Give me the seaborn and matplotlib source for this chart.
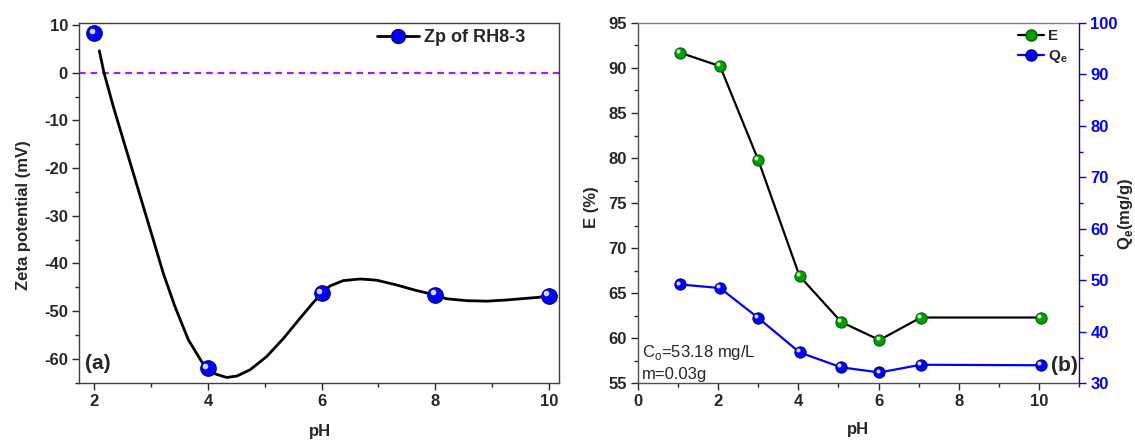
from matplotlib import pyplot as plt
from matplotlib.lines import Line2D
from matplotlib.ticker import MultipleLocator
import matplotlib.transforms as mtransforms
import pandas as pd
import seaborn as sns

# panel (a): zeta potential
zp_ph = [2, 4, 6, 8, 10]
zp_mv = [8.26, -61.97, -46.25, -46.6, -46.75]
# smooth fitted curve
curve_ph = [2.088, 2.17, 2.335, 2.51, 2.687, 2.863, 3.04, 3.215, 3.42, 3.655, 3.89,
            4.0, 4.14, 4.33, 4.51, 4.74, 5.035, 5.33, 5.62, 5.86, 6.0, 6.15, 6.38,
            6.68, 6.97, 7.32, 7.68, 8.0, 8.2, 8.56, 8.91, 9.26, 9.61, 9.82, 10.0]
curve_mv = [4.61, 0.0, -7.13, -14.1, -21.1, -28.1, -35.1, -42.1, -49.05, -56.0, -60.6,
            -62.0, -63.2, -63.9, -63.6, -62.3, -59.5, -55.7, -51.5, -48.1, -46.3, -44.7, -43.6,
            -43.25, -43.5, -44.5, -45.7, -46.6, -47.4, -47.8, -47.9, -47.65, -47.3, -47.1, -46.75]

# panel (b): removal efficiency and adsorption capacity
b_ph = [1.05, 2.05, 3.0, 4.03, 5.07, 6.02, 7.05, 10.05]
e_pct = [91.7, 90.2, 79.8, 66.9, 61.8, 59.8, 62.3, 62.3]
qe = [49.2, 48.5, 42.7, 36.0, 33.1, 32.1, 33.6, 33.5]

BLUE = "#0000ff"
GREEN = "#00a000"
PURPLE = "#a020f0"

sns.set_style("ticks")
plt.rcParams["font.family"] = ["Liberation Sans", "DejaVu Sans"]
plt.rcParams["font.weight"] = "bold"
plt.rcParams["axes.labelweight"] = "bold"
plt.rcParams["axes.unicode_minus"] = False
plt.rcParams["xtick.direction"] = "out"
plt.rcParams["ytick.direction"] = "out"

fig = plt.figure(figsize=(11.35, 4.4), dpi=100)
ax1 = fig.add_axes([0.0696, 0.1302, 0.4229, 0.8168])
ax2 = fig.add_axes([0.5619, 0.1289, 0.3891, 0.819])
ax3 = ax2.twinx()


def balls(ax, x, y, color, edge, size):
    # shaded "sphere" markers: filled circle plus a small white highlight
    df = pd.DataFrame({"x": x, "y": y})
    sns.scatterplot(data=df, x="x", y="y", ax=ax, s=size, color=color,
                    edgecolor=edge, linewidth=0.8, zorder=4, legend=False)
    off = size ** 0.5 * 0.17
    hl = mtransforms.offset_copy(ax.transData, fig=fig, x=-off, y=off, units="points")
    ax.scatter(x, y, s=size * 0.13, color="white", alpha=0.85, linewidths=0,
               transform=hl, zorder=5)


def style_axis(ax):
    ax.tick_params(labelsize=12, width=1.0, length=5, pad=3)
    ax.tick_params(which="minor", width=1.0, length=3)


# ---- panel (a)
ax1.axhline(0, color=PURPLE, ls=(0, (3, 2.2)), lw=1.6, zorder=2)
cdf = pd.DataFrame({"pH": curve_ph, "Zp": curve_mv})
sns.lineplot(data=cdf, x="pH", y="Zp", ax=ax1, sort=False, color="black",
             lw=2.0, zorder=3)
balls(ax1, zp_ph, zp_mv, BLUE, "#00008b", 125)
ax1.set_xlim(1.73, 10.18)
ax1.set_ylim(-65, 10.36)
ax1.xaxis.set_major_locator(MultipleLocator(2))
ax1.xaxis.set_minor_locator(MultipleLocator(1))
ax1.yaxis.set_major_locator(MultipleLocator(10))
ax1.yaxis.set_minor_locator(MultipleLocator(5))
ax1.set_xlabel("pH", fontsize=12)
ax1.set_ylabel("Zeta potential (mV)", fontsize=12)
ax1.xaxis.set_label_coords(0.502, -0.114)
ax1.yaxis.set_label_coords(-0.1, 0.465)
for sp in ax1.spines.values():
    sp.set_visible(True)
    sp.set_linewidth(1.0)
    sp.set_color("#404040")
style_axis(ax1)
ax1.text(0.0125, 0.027, "(a)", transform=ax1.transAxes, fontsize=15,
         fontweight="bold", ha="left", va="bottom")
h_zp = Line2D([], [], color="black", lw=2, marker="o", ms=10,
              markerfacecolor=BLUE, markeredgecolor="#00008b")
ax1.legend([h_zp], ["Zp of RH8-3"], loc="center right",
           bbox_to_anchor=(0.949, 0.961), frameon=False, borderpad=0,
           handlelength=2.3, handletextpad=0.3,
           prop={"weight": "bold", "size": 13})

# ---- panel (b)
edf = pd.DataFrame({"pH": b_ph, "E": e_pct})
qdf = pd.DataFrame({"pH": b_ph, "Qe": qe})
sns.lineplot(data=edf, x="pH", y="E", ax=ax2, color="black", lw=1.6, zorder=3)
balls(ax2, b_ph, e_pct, GREEN, "#006400", 65)
sns.lineplot(data=qdf, x="pH", y="Qe", ax=ax3, color=BLUE, lw=1.6, zorder=3)
balls(ax3, b_ph, qe, BLUE, "#00008b", 65)

ax2.set_xlim(0, 11)
ax2.set_ylim(55, 95)
ax3.set_ylim(30, 100)
ax2.xaxis.set_major_locator(MultipleLocator(2))
ax2.xaxis.set_minor_locator(MultipleLocator(1))
ax2.yaxis.set_major_locator(MultipleLocator(5))
ax2.yaxis.set_minor_locator(MultipleLocator(2.5))
ax3.yaxis.set_major_locator(MultipleLocator(10))
ax3.yaxis.set_minor_locator(MultipleLocator(5))
ax2.set_xlabel("pH", fontsize=12)
ax2.set_ylabel("E (%)", fontsize=12)
ax3.set_ylabel(r"Q$_\mathregular{e}$(mg/g)", fontsize=12)
ax2.xaxis.set_label_coords(0.498, -0.108)
ax2.yaxis.set_label_coords(-0.0885, 0.49)
ax3.yaxis.set_label_coords(1.083, 0.47)
for sp in ax2.spines.values():
    sp.set_visible(True)
    sp.set_linewidth(1.0)
    sp.set_color("#505050")
ax2.spines["top"].set_color("#808080")
ax3.spines["right"].set_color(BLUE)
ax3.spines["top"].set_visible(False)
ax3.spines["left"].set_visible(False)
ax3.spines["bottom"].set_visible(False)
style_axis(ax2)
style_axis(ax3)
ax3.tick_params(axis="y", which="both", colors=BLUE)
ax2.tick_params(axis="y", which="both", right=False)

ax2.text(0.009, 0.074, r"C$_\mathregular{o}$=53.18 mg/L", transform=ax2.transAxes,
         fontsize=12, fontweight="normal", ha="left", va="baseline")
ax2.text(0.009, 0.012, "m=0.03g", transform=ax2.transAxes,
         fontsize=12, fontweight="normal", ha="left", va="baseline")
ax2.text(0.997, 0.022, "(b)", transform=ax2.transAxes, fontsize=15,
         fontweight="bold", ha="right", va="bottom", zorder=6)

h_e = Line2D([], [], color="black", lw=1.6, marker="o", ms=8,
             markerfacecolor=GREEN, markeredgecolor="#006400")
h_q = Line2D([], [], color=BLUE, lw=1.6, marker="o", ms=8,
             markerfacecolor=BLUE, markeredgecolor="#00008b")
ax3.legend([h_e, h_q], ["E", r"Q$_\mathregular{e}$"], loc="center right",
           bbox_to_anchor=(0.99, 0.933), frameon=False, borderpad=0,
           handlelength=1.7, labelspacing=0.35, handletextpad=0.25,
           prop={"weight": "bold", "size": 11})

fig.savefig("out.png", dpi=100)
